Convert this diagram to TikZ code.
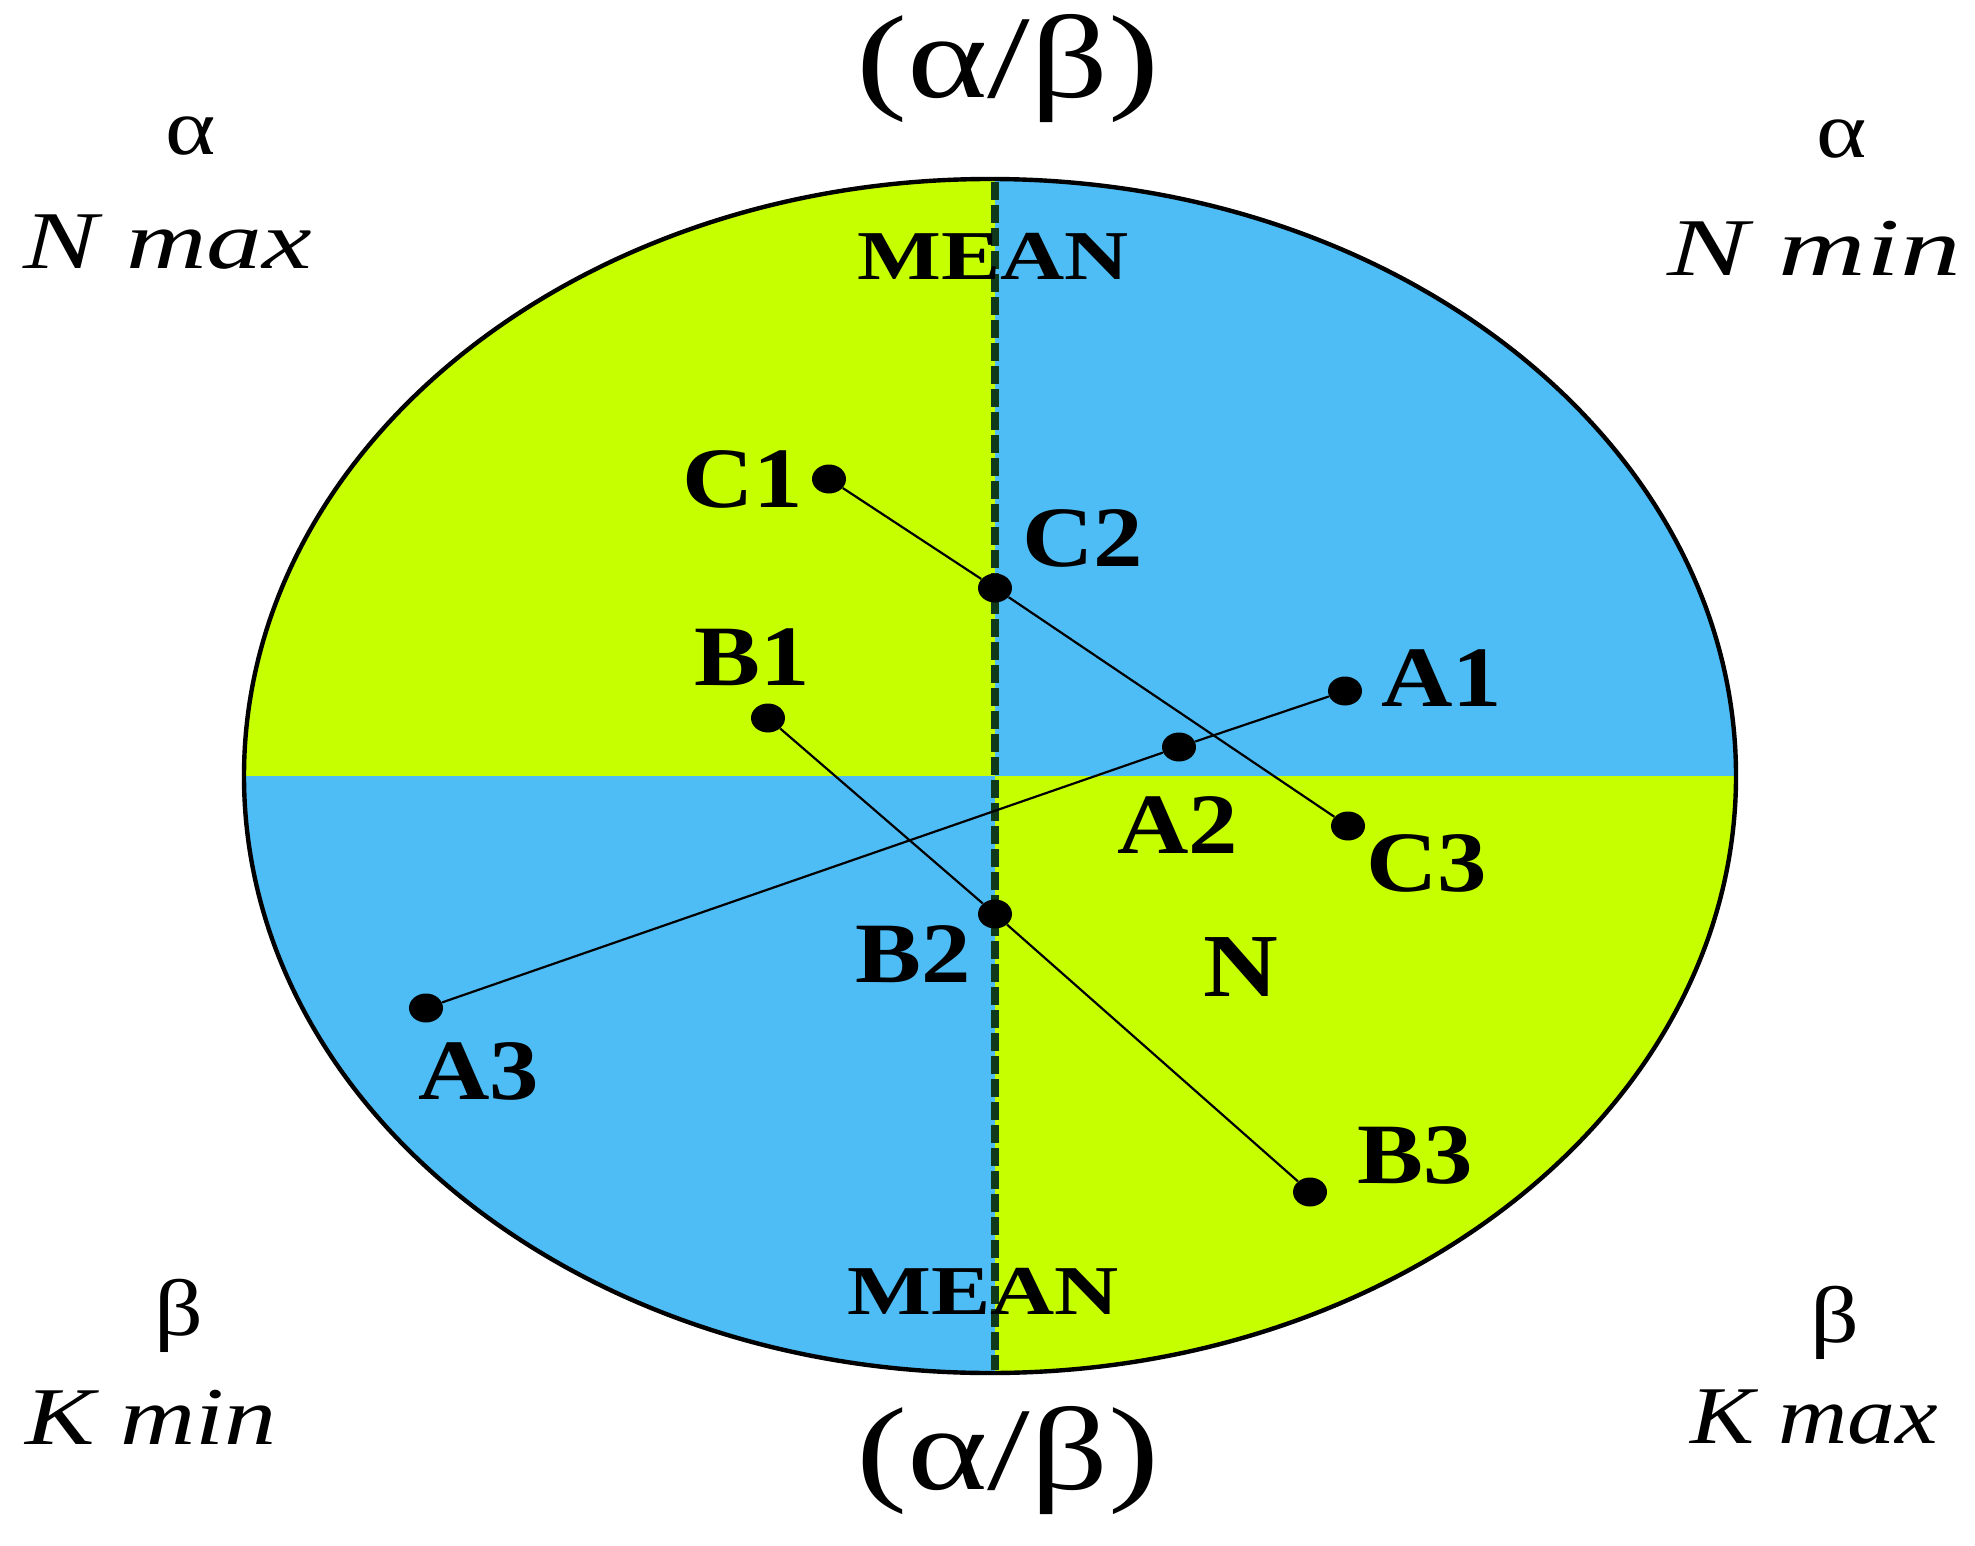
\documentclass[tikz,border=0pt]{standalone}
\usepackage{fontspec}
\usetikzlibrary{shapes.geometric}
\setmainfont{Liberation Serif}
\definecolor{lgreen}{RGB}{198,255,0}
\definecolor{lblue}{RGB}{79,189,245}
\definecolor{dgreen}{RGB}{16,56,26}
\tikzset{
  dot/.style={ellipse,fill=black,inner sep=0pt,minimum width=17pt,minimum height=14.5pt},
  lbl/.style={font=\fontsize{43}{43}\selectfont\bfseries,inner sep=0pt,xscale=1.15},
  meanlbl/.style={font=\fontsize{35}{35}\selectfont\bfseries,inner sep=0pt,xscale=1.27},
  corner/.style={font=\fontsize{41}{41}\selectfont\itshape,inner sep=0pt},
  greek/.style={font=\fontsize{40}{40}\selectfont,inner sep=0pt,xscale=1.2},
  ratio/.style={font=\fontsize{59}{59}\selectfont,inner sep=0pt,xscale=1.3},
  conn/.style={line width=1.1pt,black}
}
\begin{document}
\begin{tikzpicture}[x=0.5pt,y=-0.5pt]
\useasboundingbox (0,0) rectangle (1975,1546);
\fill[white] (0,0) rectangle (1975,1546);
% quadrants
\begin{scope}
\clip (990,776) ellipse [x radius=746, y radius=597];
\fill[lgreen] (0,0) rectangle (995,776);
\fill[lblue] (995,0) rectangle (1975,776);
\fill[lblue] (0,776) rectangle (995,1546);
\fill[lgreen] (995,776) rectangle (1975,1546);
\end{scope}
\draw[line width=2.2pt] (990,776) ellipse [x radius=746, y radius=597];
% mean line
\coordinate (mtop) at (995,182);
\coordinate (mbot) at (995,1370);
\draw[dgreen,line width=3.8pt,dash pattern=on 9pt off 2.5pt] (mtop) -- (mbot);
% points
\node[dot] (C1) at (829,479) {};
\node[dot] (C2) at (995,588) {};
\node[dot] (C3) at (1348,826) {};
\node[dot] (A1) at (1345,691) {};
\node[dot] (A2) at (1179,747) {};
\node[dot] (A3) at (426,1008) {};
\node[dot] (B1) at (768,718) {};
\node[dot] (B2) at (995,914) {};
\node[dot] (B3) at (1310,1192) {};
\draw[conn] (C1) -- (C2) -- (C3);
\draw[conn] (A1) -- (A2) -- (A3);
\draw[conn] (B1) -- (B2) -- (B3);
% point labels
\node[lbl] (lC1) at (743,479) {C1};
\node[lbl] (lC2) at (1083,538) {C2};
\node[lbl] (lC3) at (1427,863) {C3};
\node[lbl] (lA1) at (1442,678) {A1};
\node[lbl] (lA2) at (1178,825) {A2};
\node[lbl] (lA3) at (479,1071) {A3};
\node[lbl] (lB1) at (752,657) {B1};
\node[lbl] (lB2) at (913,954) {B2};
\node[lbl] (lB3) at (1415,1155) {B3};
\node[lbl,font=\fontsize{45}{45}\selectfont\bfseries] (lN) at (1241,967) {N};
\node[meanlbl] (mean1) at (993,256) {MEAN};
\node[meanlbl] (mean2) at (983,1291) {MEAN};
% outer labels
\node[ratio] (r1) at (1008,69) {(α/β)};
\node[ratio] (r2) at (1008,1461) {(α/β)};
\node[greek] (a1) at (191,136) {α};
\node[corner,xscale=1.36] (nmax) at (168,242) {N max};
\node[greek] (a2) at (1842,139) {α};
\node[corner,xscale=1.48] (nmin) at (1814,248) {N min};
\node[greek] (b1) at (179,1316) {β};
\node[corner,xscale=1.27] (kmin) at (151,1417) {K min};
\node[greek] (b2) at (1835,1323) {β};
\node[corner,xscale=1.17] (kmax) at (1814,1417) {K max};
\end{tikzpicture}
\end{document}
